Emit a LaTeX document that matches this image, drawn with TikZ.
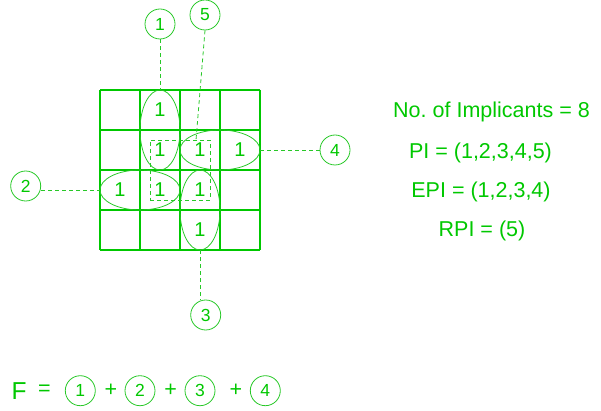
\documentclass[tikz,border=0pt]{standalone}
\usepackage{fontspec}
\setmainfont{Liberation Sans}
\usetikzlibrary{shapes.geometric}
\definecolor{kgreen}{RGB}{0,200,0}
\definecolor{lgreen}{RGB}{40,200,40}
\tikzset{
  gridline/.style={draw=kgreen, line width=1.2pt},
  grp/.style={ellipse, draw=lgreen, line width=0.8pt, inner sep=0pt},
  tag/.style={circle, draw=lgreen, line width=0.8pt, minimum size=30pt, inner sep=0pt, text=kgreen, font=\fontsize{17.5}{18}\selectfont},
  lead/.style={draw=lgreen, line width=0.8pt, dash pattern=on 4pt off 3pt},
  one/.style={text=kgreen, font=\fontsize{20}{20}\selectfont, inner sep=0pt},
  info/.style={text=kgreen, font=\fontsize{21.5}{24}\selectfont, anchor=base, inner sep=0pt},
  sym/.style={text=kgreen, font=\fontsize{21.5}{24}\selectfont, inner sep=0pt},
}
\frenchspacing
\begin{document}
\begin{tikzpicture}[x=1pt, y=-1pt]
\useasboundingbox (0,0) rectangle (601,411);
% grid
\foreach \i in {0,...,4} {
  \draw[gridline] (100+40*\i,90) -- (100+40*\i,250);
  \draw[gridline] (100,90+40*\i) -- (260,90+40*\i);
}
% ones
\foreach \x/\y/\n in {160/110/a, 160/150/b, 200/150/c, 240/150/d, 120/190/e, 160/190/f, 200/190/g, 200/230/h}
  \node[one] (o\n) at (\x,\y) {1};
% groups
\node[grp, minimum width=40pt, minimum height=80pt] (e1) at (160,130) {};
\node[grp, minimum width=80pt, minimum height=40pt] (e2) at (140,190) {};
\node[grp, minimum width=40pt, minimum height=80pt] (e3) at (200,210) {};
\node[grp, minimum width=80pt, minimum height=40pt] (e4) at (220,150) {};
\node[draw=lgreen, line width=0.8pt, dash pattern=on 4pt off 3pt, minimum width=60pt, minimum height=60pt, inner sep=0pt] (r5) at (180,170) {};
% tags
\node[tag] (c1) at (160,24) {1};
\node[tag] (c5) at (205,15) {5};
\node[tag] (c2) at (25.7,186) {2};
\node[tag] (c3) at (205.7,315) {3};
\node[tag] (c4) at (335,150) {4};
\coordinate (p5) at (196,140);
\draw[lead] (c1.south) -- (e1.north);
\draw[lead] (c5.south) -- (p5);
\draw[lead] (c2.east |- e2.west) -- (e2.west);
\draw[lead] (e3.south) -- (e3.south |- c3.north);
\draw[lead] (e4.east) -- (c4.west);
% info text
\node[info] (t1) at (491.5,117.5) {No. of Implicants = 8};
\node[info] (t2) at (480.5,158.3) {PI = (1,2,3,4,5)};
\node[info] (t3) at (481,197.7) {EPI = (1,2,3,4)};
\node[info] (t4) at (482,236.7) {RPI = (5)};
% function
\node[text=kgreen, font=\fontsize{24.5}{26}\selectfont, anchor=base, inner sep=0pt] (F) at (19,399.3) {F};
\node[sym] (eq) at (44.5,390.7) {=};
\node[tag] (f1) at (80.3,390.7) {1};
\node[sym] (pl1) at (111,390.7) {+};
\node[tag] (f2) at (140,390.7) {2};
\node[sym] (pl2) at (170.7,390.7) {+};
\node[tag] (f3) at (200,390.7) {3};
\node[sym] (pl3) at (236,390.7) {+};
\node[tag] (f4) at (265.3,390.7) {4};
\end{tikzpicture}
\end{document}
